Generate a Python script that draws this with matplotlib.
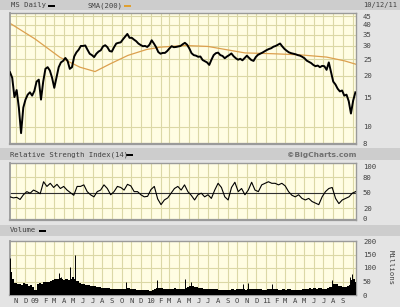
import matplotlib
matplotlib.use('Agg')
import matplotlib.pyplot as plt
import pandas as pd
from matplotlib.patches import Rectangle
from matplotlib.ticker import FixedLocator, NullLocator

# ---------------- data ----------------
price_start = '2008-10-13'   # weekly closes
price = [21.0, 19.5, 15.0, 16.5, 13.0, 9.2, 13.0, 14.5, 15.5, 16.0,
         15.3, 16.3, 18.5, 19.0, 14.5, 18.5, 22.0, 22.5, 21.5, 19.5,
         17.0, 19.5, 22.5, 24.0, 24.5, 25.5, 24.5, 22.0, 22.5, 26.0,
         27.5, 28.5, 30.0, 30.0, 30.2, 28.5, 27.0, 26.5, 25.8, 27.0,
         27.8, 28.3, 29.8, 30.3, 29.5, 28.0, 27.8, 29.5, 31.0, 31.3,
         31.5, 32.8, 34.0, 35.3, 33.5, 33.5, 32.7, 32.0, 31.0, 30.4,
         29.9, 30.0, 29.6, 30.5, 32.4, 31.0, 29.5, 27.6, 27.0, 27.3,
         27.3, 28.0, 29.0, 29.9, 29.5, 29.6, 29.8, 30.0, 30.7, 31.3,
         30.5, 29.0, 27.2, 26.5, 26.3, 25.9, 26.0, 24.8, 24.4, 24.0,
         23.2, 24.9, 26.5, 27.2, 27.4, 26.5, 26.2, 25.4, 26.0, 26.5,
         27.1, 26.1, 25.4, 24.9, 25.2, 24.7, 25.5, 26.3, 25.5, 24.8,
         24.5, 25.8, 26.6, 27.0, 27.4, 27.9, 28.4, 28.8, 29.1, 29.7,
         30.0, 30.5, 31.0, 29.8, 28.8, 28.1, 27.5, 27.2, 27.0, 26.8,
         26.5, 26.3, 25.9, 25.4, 24.6, 24.2, 23.8, 23.2, 22.8, 23.0,
         22.5, 22.9, 22.8, 21.7, 24.0, 21.0, 18.5, 17.8, 16.8, 16.2,
         16.4, 15.3, 15.5, 14.2, 12.0, 14.3, 16.0]

sma_dates = ['2008-10-13', '2008-12-31', '2009-03-20', '2009-05-22', '2009-07-09',
             '2009-08-25', '2009-10-21', '2009-12-19', '2010-01-30', '2010-04-19',
             '2010-07-01', '2010-10-26', '2011-01-22', '2011-04-17', '2011-07-11',
             '2011-09-06', '2011-10-12']
sma_vals = [40.8, 33.0, 25.7, 22.5, 21.2, 23.5, 26.4, 28.6, 29.5, 30.2,
            29.8, 27.3, 27.0, 26.6, 25.8, 24.5, 23.4]

rsi_start, rsi_end = '2008-10-13', '2011-10-11'
rsi = [42, 40, 41, 37, 46, 52, 49, 55, 52, 48,
       71, 62, 68, 60, 66, 58, 62, 55, 50, 45,
       62, 62, 65, 52, 46, 42, 52, 55, 65, 58,
       46, 52, 62, 60, 55, 66, 63, 52, 52, 46,
       42, 43, 56, 62, 38, 27, 36, 40, 49, 58,
       62, 55, 65, 52, 45, 36, 46, 49, 42, 46,
       39, 55, 68, 60, 42, 36, 60, 70, 52, 58,
       46, 55, 70, 55, 52, 65, 68, 71, 68, 68,
       65, 68, 63, 52, 45, 42, 46, 39, 36, 39,
       33, 30, 27, 42, 52, 58, 60, 39, 29, 36,
       39, 42, 49, 52]

volume = [85, 60, 45, 40, 42, 38, 45, 40, 35, 38,
          30, 20, 40, 45, 42, 48, 48, 50, 52, 55,
          58, 60, 62, 58, 55, 60, 55, 60, 65, 58,
          52, 45, 42, 40, 38, 36, 35, 33, 32, 30,
          28, 26, 27, 26, 25, 24, 24, 23, 24, 23,
          22, 22, 23, 25, 22, 21, 21, 20, 19, 19,
          19, 20, 18, 16, 17, 21, 26, 26, 25, 24,
          23, 22, 23, 24, 25, 24, 22, 22, 24, 26,
          28, 34, 32, 30, 28, 26, 26, 24, 22, 24,
          22, 24, 23, 21, 20, 19, 20, 19, 20, 19,
          21, 20, 21, 22, 24, 22, 20, 23, 24, 22,
          21, 21, 22, 21, 20, 18, 21, 22, 21, 22,
          21, 20, 20, 21, 20, 22, 22, 20, 20, 19,
          19, 20, 21, 23, 24, 25, 24, 25, 24, 25,
          25, 24, 24, 26, 28, 30, 42, 40, 35, 32,
          28, 30, 32, 38, 55, 60, 48]

spike_dates = ['2008-10-14', '2009-03-17', '2009-03-24', '2009-04-22', '2009-05-08',
               '2009-10-16', '2010-01-21', '2010-04-20', '2010-05-07', '2010-10-19',
               '2010-11-04', '2011-01-20', '2011-07-29', '2011-09-22', '2011-09-28']
spike_vals = [137, 80, 68, 104, 148, 47, 54, 60, 47, 41, 45, 41, 54, 66, 79]

price_ticks = [8, 10, 15, 20, 25, 30, 35, 40, 45]
rsi_ticks = [0, 20, 50, 80, 100]
vol_ticks = [0, 50, 100, 150, 200]
month_labels = ['N', 'D', '09', 'F', 'M', 'A', 'M', 'J', 'J', 'A', 'S', 'O',
                'N', 'D', '10', 'F', 'M', 'A', 'M', 'J', 'J', 'A', 'S', 'O',
                'N', 'D', '11', 'F', 'M', 'A', 'M', 'J', 'J', 'A', 'S', '']

# ---------------- styling ----------------
W, H = 400, 307
BG = '#e4e4e4'
STRIP = '#cdcdcd'
FACE = '#fffde3'
GRID = '#dbd8a6'
TXT = '#404040'
MONO = 'DejaVu Sans Mono'
FS = 5.2

fig = plt.figure(figsize=(W / 100, H / 100), dpi=100)
fig.patch.set_facecolor(BG)


def fig_rect(x0, y0, x1, y1, color, **kw):
    fig.add_artist(Rectangle((x0 / W, 1 - y1 / H), (x1 - x0) / W, (y1 - y0) / H,
                             transform=fig.transFigure, facecolor=color,
                             edgecolor='none', **kw))


def fig_text(x, y, s, **kw):
    kw.setdefault('fontsize', FS)
    kw.setdefault('color', TXT)
    kw.setdefault('family', MONO)
    kw.setdefault('va', 'center')
    fig.text(x / W, 1 - y / H, s, **kw)


def px_axes(x0, y0, x1, y1):
    return fig.add_axes([x0 / W, 1 - y1 / H, (x1 - x0) / W, (y1 - y0) / H])


# header strips
fig_rect(0, 0, 400, 10, STRIP)
fig_rect(0, 148, 400, 160, STRIP)
fig_rect(0, 225, 400, 236, STRIP)

fig_text(11, 5.5, 'MS Daily')
fig_rect(48, 4.5, 55, 6.8, 'black')
fig_text(87, 5.5, 'SMA(200)')
fig_rect(124, 4.5, 131, 6.8, '#e0a030')
fig_text(363, 5.5, '10/12/11', fontsize=5.0)

fig_text(10, 154.5, 'Relative Strength Index(14)')
fig_rect(126, 153.5, 133, 155.8, 'black')
fig_text(356, 154.5, '\u00a9BigCharts.com', ha='right', family='DejaVu Sans',
         fontweight='bold', color='#707070', fontsize=5.4)

fig_text(10, 230.5, 'Volume')
fig_rect(39, 229.5, 46, 231.8, 'black')
fig_text(391, 267, 'Millions', rotation=270, ha='center')

xmin, xmax = pd.Timestamp('2008-10-13'), pd.Timestamp('2011-10-12')
months = pd.date_range('2008-11-01', '2011-10-01', freq='MS')


def style(ax, ticks, labels):
    ax.set_facecolor(FACE)
    ax.set_xlim(xmin, xmax)
    for s in ax.spines.values():
        s.set_color('#9a9a9a')
        s.set_linewidth(1.0)
    ax.spines['bottom'].set_linewidth(1.6)
    ax.spines['left'].set_linewidth(1.3)
    ax.yaxis.tick_right()
    ax.yaxis.set_major_locator(FixedLocator(ticks))
    ax.yaxis.set_minor_locator(NullLocator())
    ax.set_yticklabels(labels, family=MONO, fontsize=FS, color=TXT)
    ax.tick_params(axis='y', length=0, pad=5)
    ax.set_xticks(months)
    ax.tick_params(axis='x', length=0)
    for m in months:
        ax.axvline(m, color=GRID, lw=0.8, zorder=0.5)


# ---------------- price panel ----------------
ax1 = px_axes(10, 13, 356, 144)
ax1.set_yscale('log')
ax1.set_ylim(7.94, 46.9)
style(ax1, price_ticks, [str(t) for t in price_ticks])
for t in price_ticks:
    ax1.axhline(t, color=GRID, lw=0.8, zorder=0.5)
pdates = pd.date_range(price_start, periods=len(price), freq='7D')
ax1.plot(pd.to_datetime(sma_dates), sma_vals, color='#dca04e', lw=0.9, zorder=2)
ax1.plot(pdates, price, color='black', lw=1.4, zorder=3)
ax1.set_xticklabels([])

# ---------------- RSI panel ----------------
ax2 = px_axes(10, 163, 356, 220)
ax2.set_ylim(-2.5, 107)
style(ax2, rsi_ticks, [str(t) for t in rsi_ticks])
for t in (20, 80):
    ax2.axhline(t, color=GRID, lw=0.8, zorder=0.5)
ax2.axhline(50, color='#303030', lw=0.8, zorder=1)
rdates = pd.date_range(rsi_start, rsi_end, periods=len(rsi))
ax2.plot(rdates, rsi, color='black', lw=0.8, zorder=3)
ax2.set_xticklabels([])

# ---------------- volume panel ----------------
ax3 = px_axes(10, 241, 356, 295)
ax3.set_ylim(0, 200)
style(ax3, vol_ticks, [str(t) for t in vol_ticks])
for t in (50, 100, 150):
    ax3.axhline(t, color=GRID, lw=0.8, zorder=0.5)
ax3.bar(pdates, volume, width=7, align='edge', color='black', lw=0, zorder=3)
ax3.vlines(pd.to_datetime(spike_dates), 0, spike_vals, color='black', lw=0.7, zorder=3)
ax3.set_xticklabels(month_labels, family=MONO, fontsize=FS, color=TXT)
ax3.tick_params(axis='x', pad=2)

fig.savefig('out.png', dpi=100, facecolor=BG)
